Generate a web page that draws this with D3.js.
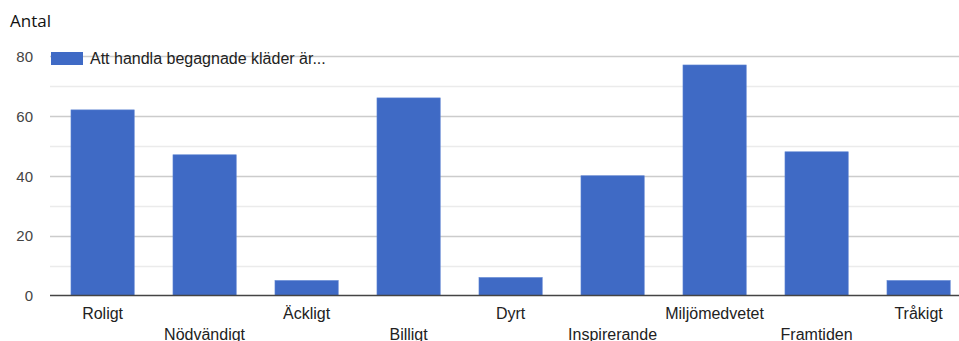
<!DOCTYPE html>
<html><head><meta charset="utf-8">
<script src="https://cdn.jsdelivr.net/npm/d3@7"></script>
<style>body{margin:0;background:#fff;overflow:hidden}</style>
</head><body>
<svg id="c" width="959" height="341"></svg>
<script>
const categories = ["Roligt","Nödvändigt","Äckligt","Billigt","Dyrt","Inspirerande","Miljömedvetet","Framtiden","Tråkigt"];
const values = [62,47,5,66,6,40,77,48,5];
const yTicks = [0,20,40,60,80];
const yMinor = [10,30,50,70];
const seriesName = "Att handla begagnade kläder är...";
const yTitle = "Antal";

const svg = d3.select("#c");
const x = d3.scaleBand().domain(categories).range([51.6, 969.6]).paddingInner(0.38).paddingOuter(0.19);
const y = d3.scaleLinear().domain([0,80]).range([295.5, 56]);
const font = "'Liberation Sans', Arial, sans-serif";

// minor gridlines
svg.append("g").selectAll("line").data(yMinor).join("line")
  .attr("x1",50).attr("x2",959).attr("y1",d=>Math.round(y(d))+0.5).attr("y2",d=>Math.round(y(d))+0.5)
  .attr("stroke","#ebebeb").attr("stroke-width",1.5);
// major gridlines
svg.append("g").selectAll("line").data(yTicks.filter(d=>d>0)).join("line")
  .attr("x1",50).attr("x2",959).attr("y1",d=>Math.round(y(d))+0.5).attr("y2",d=>Math.round(y(d))+0.5)
  .attr("stroke","#cccccc").attr("stroke-width",1.5);

// y axis labels via d3 axis
const ya = svg.append("g").attr("transform","translate(33,0)")
  .call(d3.axisLeft(y).tickValues(yTicks).tickSize(0).tickPadding(0));
ya.select(".domain").remove();
ya.selectAll("text").attr("font-family",font).attr("font-size",15).attr("fill","#444").attr("dy","0.35em");

// bars
svg.append("g").selectAll("rect").data(values).join("rect")
  .attr("x",(d,i)=>x(categories[i])).attr("width",x.bandwidth())
  .attr("y",d=>y(d)).attr("height",d=>y(0)-y(d))
  .attr("fill","#3f6ac5").attr("stroke","#5c83d2").attr("stroke-width",0.6);

// baseline
svg.append("line").attr("x1",50).attr("x2",959).attr("y1",y(0)).attr("y2",y(0))
  .attr("stroke","#444").attr("stroke-width",1.5);

// x labels (staggered)
svg.append("g").selectAll("text").data(categories).join("text")
  .attr("x",d=>x(d)+x.bandwidth()/2)
  .attr("y",(d,i)=> i%2===0 ? 318.5 : 340)
  .attr("text-anchor","middle").attr("font-family",font).attr("font-size",16).attr("fill","#222")
  .text(d=>d);

// legend
svg.append("rect").attr("x",51).attr("y",52).attr("width",32).attr("height",13).attr("fill","#3f6ac5");
svg.append("text").attr("x",90).attr("y",64).attr("font-family",font).attr("font-size",16).attr("fill","#222").text(seriesName);

// y title
svg.append("text").attr("x",10).attr("y",27).attr("font-family","'Open Sans', sans-serif").attr("font-size",17).attr("fill","#111").text(yTitle);
</script>
</body></html>
